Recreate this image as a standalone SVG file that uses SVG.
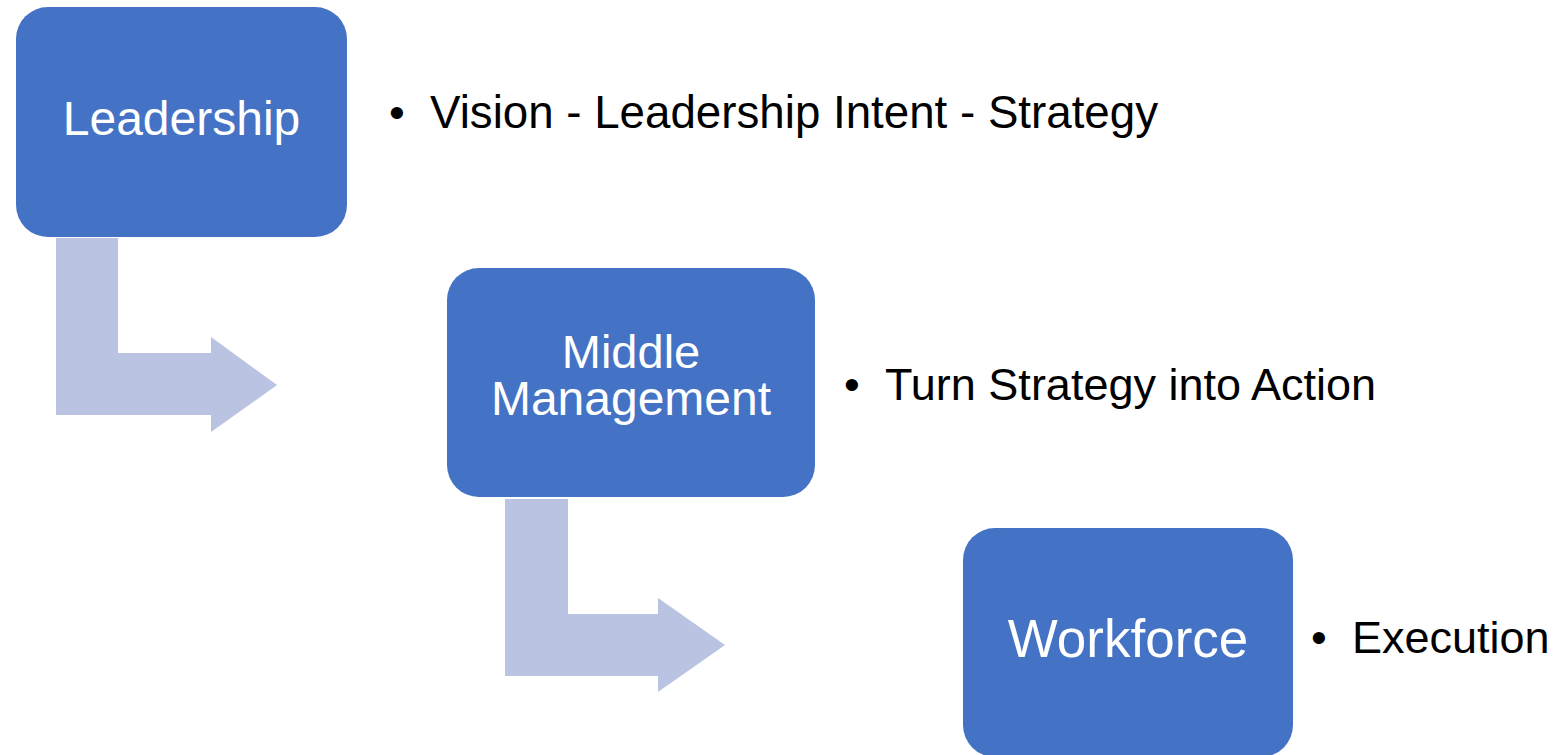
<svg xmlns="http://www.w3.org/2000/svg" width="1557" height="755" viewBox="0 0 1557 755">
<style>
.box{fill:#4472C4}
.arrow{fill:#BAC3E2}
.lbl{font-family:"Liberation Sans",Arial,sans-serif;fill:#FFFFFF;text-anchor:middle}
.txt{font-family:"Liberation Sans",Arial,sans-serif;fill:#000000;font-size:45px}
.bul{font-family:"Liberation Sans",Arial,sans-serif;fill:#000000;font-size:45px;text-anchor:middle}
</style>
<rect width="1557" height="755" fill="#FFFFFF"/>
<g id="connectors">
<polygon class="arrow" points="56,238 118,238 118,353 211,353 211,337 277,385 211,432 211,415 56,415"/>
<polygon class="arrow" points="505,499 568,499 568,614 658,614 658,598 725,645 658,692 658,676 505,676"/>
</g>
<g id="leadership">
<rect class="box" x="16" y="7" width="331" height="230" rx="32" ry="32"/>
<text class="lbl" x="181.5" y="135" font-size="48">Leadership</text>
</g>
<g id="leadership-note">
<text class="bul" x="397" y="128">•</text>
<text class="txt" x="430" y="128" style="font-size:45.7px">Vision - Leadership Intent - Strategy</text>
</g>
<g id="middle-management">
<rect class="box" x="447" y="268" width="368" height="229" rx="32" ry="32"/>
<text class="lbl" x="631" y="368" font-size="47">Middle</text>
<text class="lbl" x="631" y="415" font-size="48">Management</text>
</g>
<g id="middle-management-note">
<text class="bul" x="852" y="400">•</text>
<text class="txt" x="885" y="400">Turn Strategy into Action</text>
</g>
<g id="workforce">
<rect class="box" x="963" y="528" width="330" height="229" rx="32" ry="32"/>
<text class="lbl" x="1128" y="657" font-size="53">Workforce</text>
</g>
<g id="workforce-note">
<text class="bul" x="1319" y="653">•</text>
<text class="txt" x="1352" y="653">Execution</text>
</g>
</svg>
